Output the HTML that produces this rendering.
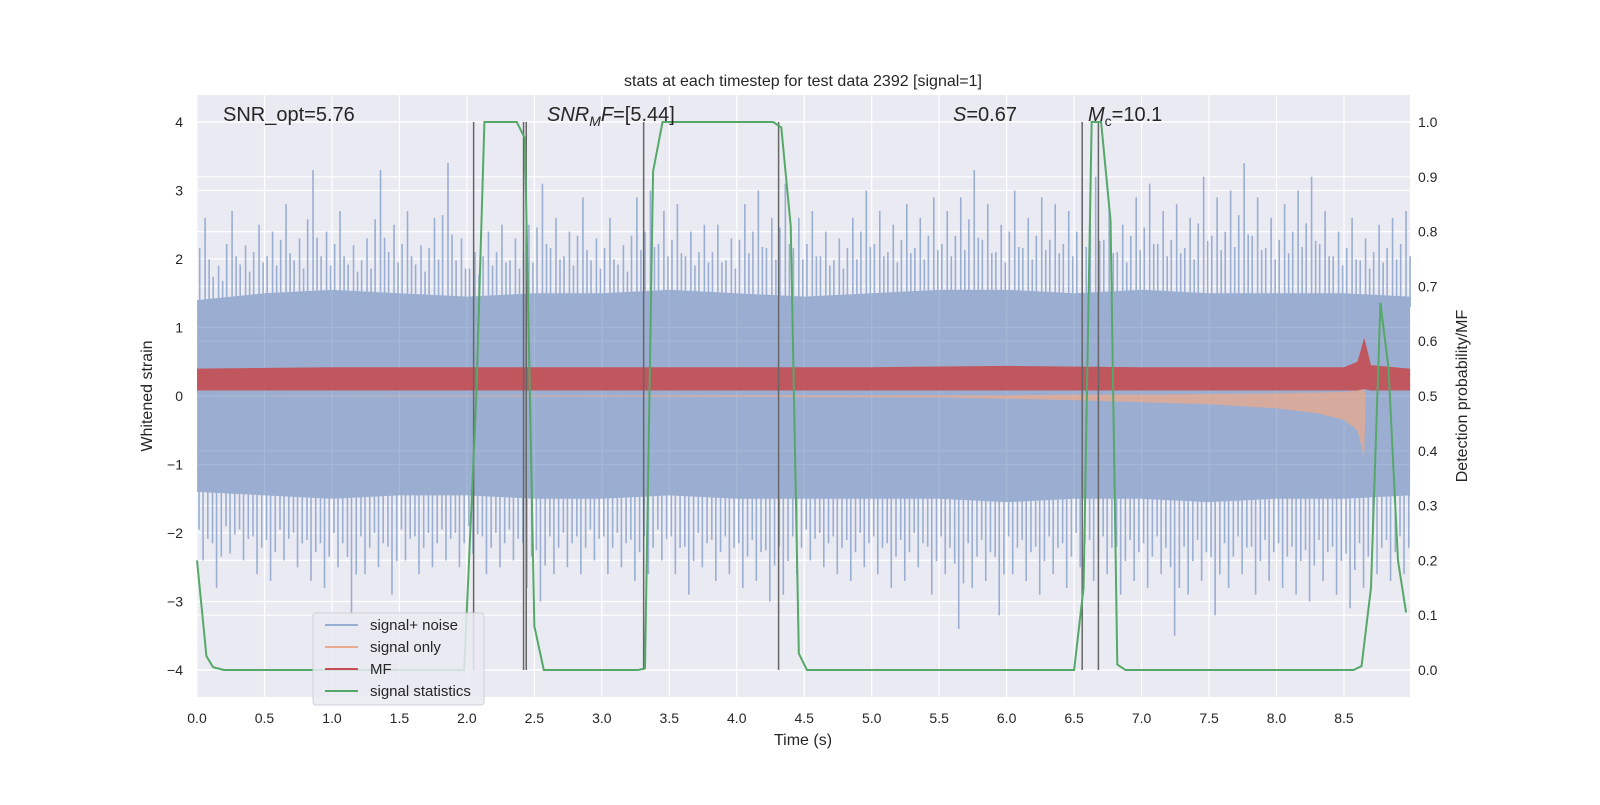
<!DOCTYPE html>
<html><head><meta charset="utf-8"><style>
body{margin:0;background:#fff;}
svg text{font-family:"Liberation Sans","DejaVu Sans",sans-serif;fill:#262626;}
</style></head><body>
<svg id="chart" width="1600" height="800" xmlns="http://www.w3.org/2000/svg">
<rect x="0" y="0" width="1600" height="800" fill="#fff"/>
<rect x="197" y="95" width="1213" height="602" fill="#eaeaf2"/>
<g id="grid"></g>
<g id="noise"></g>
<g id="sigonly"></g>
<g id="mf"></g>
<g id="vlines"></g>
<g id="stat"></g>
<g id="ticks"></g>
<text x="803" y="86" font-size="16" text-anchor="middle">stats at each timestep for test data 2392 [signal=1]</text>
<text x="803" y="745" font-size="16" text-anchor="middle">Time (s)</text>
<text transform="translate(152,396) rotate(-90)" font-size="16" text-anchor="middle">Whitened strain</text>
<text transform="translate(1467,396) rotate(-90)" font-size="16" text-anchor="middle">Detection probability/MF</text>
<text x="223" y="121" font-size="20">SNR_opt=5.76</text>
<text x="547" y="121" font-size="20"><tspan font-style="italic">SNR</tspan><tspan font-style="italic" font-size="14" dy="5">M</tspan><tspan font-style="italic" dy="-5">F</tspan>=[5.44]</text>
<text x="953" y="121" font-size="20"><tspan font-style="italic">S</tspan>=0.67</text>
<text x="1088" y="121" font-size="20"><tspan font-style="italic">M</tspan><tspan font-size="14" dy="5">c</tspan><tspan dy="-5">=10.1</tspan></text>
<g>
<rect x="313" y="613" width="171" height="92" rx="3" fill="#eaeaf2" fill-opacity="0.85" stroke="#d0d0d8"/>
<line x1="325" y1="625" x2="358" y2="625" stroke="#9aaed1" stroke-width="2"/>
<text x="370" y="630" font-size="15">signal+ noise</text>
<line x1="325" y1="647" x2="358" y2="647" stroke="#e8ab90" stroke-width="2"/>
<text x="370" y="652" font-size="15">signal only</text>
<line x1="325" y1="669" x2="358" y2="669" stroke="#c44e52" stroke-width="2"/>
<text x="370" y="674" font-size="15">MF</text>
<line x1="325" y1="691" x2="358" y2="691" stroke="#55a868" stroke-width="2"/>
<text x="370" y="696" font-size="15">signal statistics</text>
</g>
</svg>
<script>
const statTimes=[0,0.07,0.12,0.2,1.98,2.07,2.13,2.37,2.43,2.5,2.57,3.27,3.32,3.38,3.45,4.27,4.33,4.4,4.46,4.52,6.5,6.57,6.63,6.7,6.77,6.82,6.88,8.57,8.63,8.7,8.77,8.83,8.9,8.96];
const statValues=[0.2,0.025,0.005,0,0,0.5,1,1,0.97,0.08,0,0,0.003,0.91,1,1,0.99,0.81,0.03,0,0,0.15,1,1,0.82,0.01,0,0,0.007,0.15,0.67,0.55,0.2,0.105];
const detectTimes=[2.05,2.42,2.44,3.31,4.31,6.56,6.68];
const coreTimes=[0,0.5,1,1.5,2,2.5,3,3.5,4,4.5,5,5.5,6,6.5,7,7.5,8,8.5,9];
const coreUp=[1.4,1.5,1.55,1.5,1.45,1.5,1.5,1.55,1.5,1.45,1.5,1.55,1.55,1.5,1.55,1.5,1.5,1.5,1.45];
const coreLow=[-1.4,-1.45,-1.5,-1.45,-1.45,-1.5,-1.5,-1.45,-1.5,-1.5,-1.5,-1.5,-1.55,-1.5,-1.5,-1.55,-1.5,-1.5,-1.45];
const peakUp=[2.6,1.9,2.7,2.2,2.5,2.4,2.8,2.3,3.3,2.4,2.7,2.2,2.3,3.3,2.5,2.7,2.2,2.6,3.4,2.3,2.1,2.4,2.5,2.3,2.5,3.1,2.6,2.4,2.9,2.3,2.6,2.2,2.9,3.0,2.7,2.8,2.4,2.5,2.5,2.3,2.8,3.0,2.6,3.1,2.6,2.7,2.4,2.3,2.6,3.0,2.7,2.5,2.8,2.6,2.9,2.7,2.9,3.3,2.8,2.5,3.0,2.6,2.9,2.8,2.7,3.0,3.2,2.8,2.5,2.9,3.1,2.7,2.8,2.6,3.2,2.9,3.0,3.4,2.9,2.6,2.8,3.0,3.2,2.7,2.4,2.6,2.3,2.5,2.6,2.7];
const peakLow=[-2.4,-2.8,-2.3,-2.4,-2.6,-2.7,-2.4,-2.5,-2.7,-2.8,-2.5,-3.2,-2.6,-2.5,-2.9,-2.4,-2.6,-2.5,-2.4,-2.5,-2.3,-2.6,-2.5,-2.4,-2.8,-3.0,-2.6,-2.5,-2.6,-2.4,-2.6,-2.5,-2.7,-2.6,-2.4,-2.6,-2.9,-2.5,-2.7,-2.6,-2.8,-2.7,-3.0,-2.9,-2.6,-2.4,-2.5,-2.6,-2.7,-2.5,-2.6,-2.8,-2.7,-2.5,-2.9,-2.6,-3.4,-2.8,-2.7,-3.2,-2.6,-2.7,-2.9,-2.6,-2.8,-2.5,-2.7,-2.6,-2.9,-2.7,-2.8,-2.6,-3.5,-2.9,-2.7,-3.2,-2.8,-2.6,-2.9,-2.7,-2.8,-2.9,-3.0,-2.7,-2.9,-3.1,-2.8,-2.6,-2.7,-2.6];
const mfTimes=[0,1,2,3,4,5,6,7,8,8.5,8.6,8.65,8.7,9];
const mfHigh=[0.4,0.42,0.42,0.42,0.42,0.42,0.44,0.42,0.42,0.42,0.5,0.85,0.45,0.4];
const mfLow=[0.08,0.08,0.08,0.08,0.08,0.08,0.08,0.08,0.08,0.08,0.08,0.1,0.08,0.08];
const sigTimes=[0,5.5,6,6.5,7,7.5,8,8.3,8.5,8.6,8.65,8.66,9];
const sigLow=[0,-0.02,-0.04,-0.06,-0.09,-0.12,-0.18,-0.25,-0.35,-0.5,-0.9,0,0];
const sigHigh=[0,0.01,0.01,0.02,0.02,0.03,0.04,0.05,0.06,0.08,0.1,0,0];
const xTicks=[0,0.5,1,1.5,2,2.5,3,3.5,4,4.5,5,5.5,6,6.5,7,7.5,8,8.5];
const yTicks=[-4,-3,-2,-1,0,1,2,3,4];
const pTicks=[0,0.1,0.2,0.3,0.4,0.5,0.6,0.7,0.8,0.9,1.0];

const NS="http://www.w3.org/2000/svg";
const xs=t=>197+t*134.94, ys=v=>396-v*68.5, yp=p=>670-p*548;
function mk(g,tag,a){const e=document.createElementNS(NS,tag);for(const k in a)e.setAttribute(k,a[k]);document.getElementById(g).appendChild(e);return e;}
xTicks.forEach(t=>{const l=mk('grid','line',{x1:xs(t),x2:xs(t),y1:95,y2:697,stroke:'#fff','stroke-width':1.2});


const tx=mk('ticks','text',{x:xs(t),y:723,'font-size':14,'text-anchor':'middle'});tx.textContent=t.toFixed(1);

});
yTicks.forEach(v=>{const l=mk('grid','line',{x1:197,x2:1410,y1:ys(v),y2:ys(v),stroke:'#fff','stroke-width':1.2});


const tx=mk('ticks','text',{x:183,y:ys(v)+5,'font-size':14,'text-anchor':'end'});tx.textContent=v<0?'\u2212'+(-v):String(v);

});
pTicks.forEach(p=>{const l=mk('grid','line',{x1:197,x2:1410,y1:yp(p),y2:yp(p),stroke:'#fff','stroke-width':1.2});


const tx=mk('ticks','text',{x:1418,y:yp(p)+5,'font-size':14});tx.textContent=p.toFixed(1);

});
let d='M'+coreTimes.map((t,i)=>xs(Math.min(t,8.99))+','+ys(coreUp[i])).join('L');
for(let i=coreTimes.length-1;i>=0;i--)d+='L'+xs(Math.min(coreTimes[i],8.99))+','+ys(coreLow[i]);
const band=mk('noise','path',{d:d+'Z',fill:'#4c72b0','fill-opacity':0.5});


peakUp.forEach((v,i)=>{[0.02,0.06,0.09].forEach((o,k)=>{const t=i*0.1+o;const vv=k===1?v:1.5+(v-1.5)*(k===0?0.6:0.45);
const l=mk('noise','line',{x1:xs(t),x2:xs(t),y1:ys(1.3),y2:ys(vv),stroke:'#9aaed1','stroke-width':1.6});

});});
peakLow.forEach((v,i)=>{[0.015,0.045,0.08].forEach((o,k)=>{const t=i*0.1+o;const vv=k===1?v:-1.5+(v+1.5)*(k===0?0.5:0.65);
const l=mk('noise','line',{x1:xs(t),x2:xs(t),y1:ys(-1.3),y2:ys(vv),stroke:'#9aaed1','stroke-width':1.6});

});});
d='M'+sigTimes.map((t,i)=>xs(Math.min(t,8.99))+','+ys(sigHigh[i])).join('L');
for(let i=sigTimes.length-1;i>=0;i--)d+='L'+xs(Math.min(sigTimes[i],8.99))+','+ys(sigLow[i]);
const so=mk('sigonly','path',{d:d+'Z',fill:'#e0a994','fill-opacity':0.85});


d='M'+mfTimes.map((t,i)=>xs(Math.min(t,8.99))+','+ys(mfHigh[i])).join('L');
for(let i=mfTimes.length-1;i>=0;i--)d+='L'+xs(Math.min(mfTimes[i],8.99))+','+ys(mfLow[i]);
const mf=mk('mf','path',{d:d+'Z',fill:'#c44e52','fill-opacity':0.9});


detectTimes.forEach(t=>{const l=mk('vlines','line',{x1:xs(t),x2:xs(t),y1:yp(1),y2:yp(0),stroke:'#666','stroke-width':1.5});

});
const pl=mk('stat','polyline',{points:statTimes.map((t,i)=>xs(t)+','+yp(statValues[i])).join(' '),fill:'none',stroke:'#55a868','stroke-width':2});


</script>
</body></html>
